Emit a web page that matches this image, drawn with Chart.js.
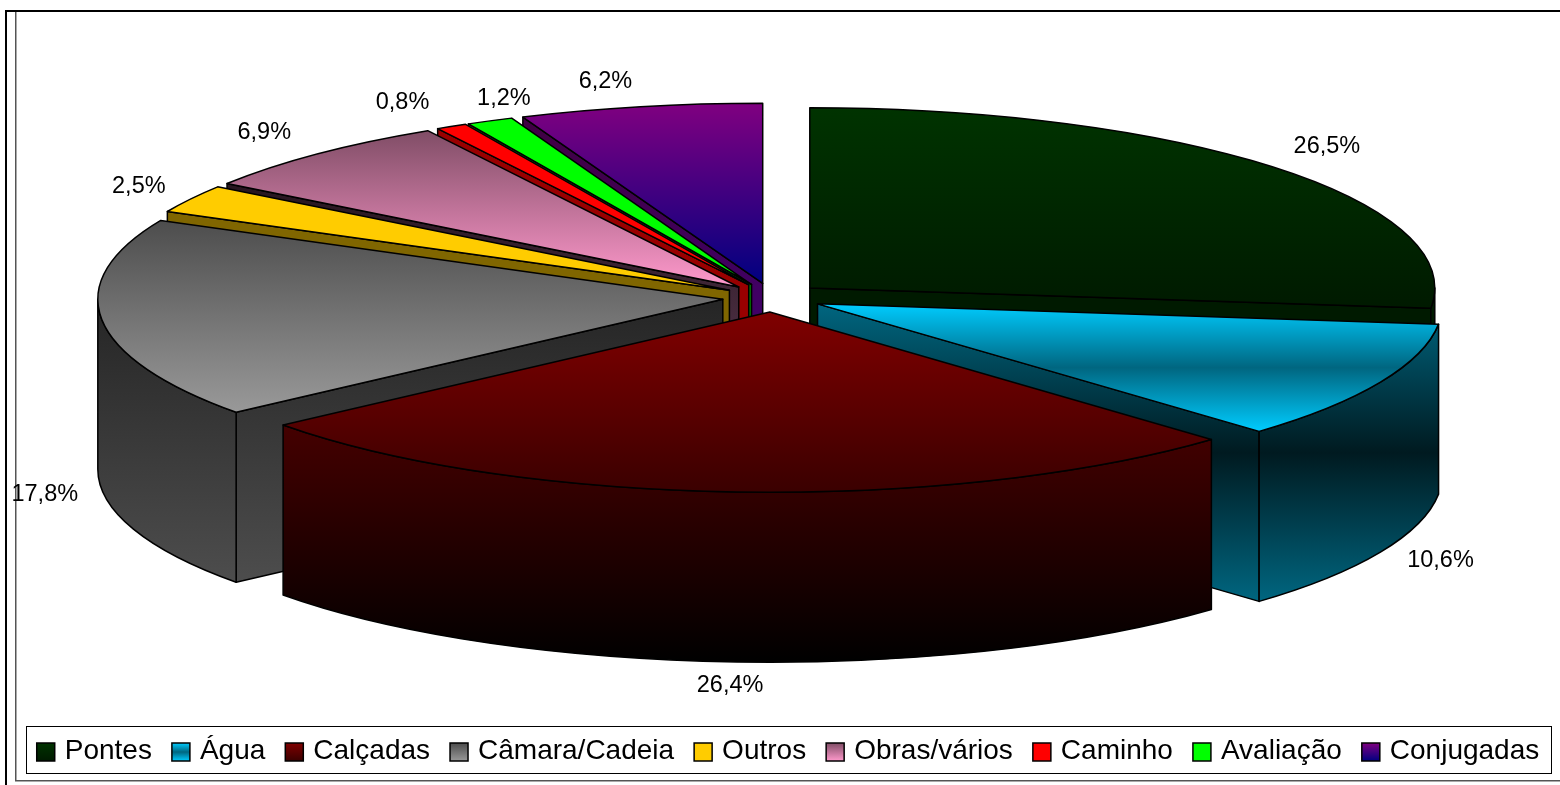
<!DOCTYPE html>
<html lang="pt">
<head>
<meta charset="utf-8">
<title>Gráfico</title>
<style>html,body{margin:0;padding:0;background:#fff}#wrap{width:1560px;height:785px}</style>
<script src="https://cdn.jsdelivr.net/npm/chart.js@4/dist/chart.umd.min.js"></script>
</head>
<body>
<div id="wrap"><canvas id="c" width="1560" height="785"></canvas></div>
<script>
const categories = ["Pontes","Água","Calçadas","Câmara/Cadeia","Outros","Obras/vários","Caminho","Avaliação","Conjugadas"];
const values = [26.5,10.6,26.4,17.8,2.5,6.9,0.8,1.2,6.2];

const topStops = [["#003300","#001a00"],["#00ccff","#006680","#00ccff"],["#800000","#3a0000"],["#4d4d4d","#999999"],["#ffcc00","#ffcc00"],["#804d66","#ff99cc"],["#ff0000","#ff0000"],["#00ff00","#00ff00"],["#800080","#000080"]];
const wallStops = [["#001a00","#001a00"],["#006680","#001a20","#006680"],["#660000","#000000"],["#1a1a1a","#4d4d4d"],["#806600","#806600"],["#1a0d14","#66405a"],["#990000","#990000"],["#008000","#008000"],["#400040","#400080"]];
const labelNudges = [[51,-21],[60,8],[-6,24],[-57,5],[-52,-12],[-53,-21],[-49,-24],[14,-22],[-35,-25]];

const RADIUS = 625, TILT = 0.2883, DEPTH = 170, EXPLODE = 50;
const CENTER_X = 772.5, CENTER_Y = 297.6;
const FONT = '"Liberation Sans", Arial, sans-serif';

function sliceSinRange(i){
  const total = values.reduce((a,b)=>a+b,0);
  const before = values.slice(0,i).reduce((a,b)=>a+b,0);
  const s = -Math.PI/2 + before/total*2*Math.PI;
  const e = s + values[i]/total*2*Math.PI;
  let lo = Math.min(0,Math.sin(s),Math.sin(e)), hi = Math.max(0,Math.sin(s),Math.sin(e));
  if (s < Math.PI/2 && e > Math.PI/2) hi = 1;
  if (s < -Math.PI/2+1e-9 || (s < 3*Math.PI/2 && e > 3*Math.PI/2)) lo = -1;
  return [lo,hi];
}
function fillStops(g, stops){ stops.forEach((c,k)=>g.addColorStop(k/(stops.length-1),c)); return g; }

function sliceGeom(el){
  const mid = (el.startAngle+el.endAngle)/2;
  return {s:el.startAngle,e:el.endAngle,mid,R:el.outerRadius,
    ax:CENTER_X+Math.cos(mid)*EXPLODE, ay:CENTER_Y+Math.sin(mid)*EXPLODE*TILT};
}

const pie3d = {
  id:'pie3d',
  beforeDraw(chart){
    const c = chart.ctx;
    c.save();
    c.fillStyle='#fff'; c.fillRect(0,0,1560,785);
    c.fillStyle='#000'; c.fillRect(5,10,1555,2); c.fillRect(5,10,2,775);
    c.fillStyle='#555'; c.fillRect(15,12,1.5,769); c.fillRect(15,780,1545,1.5);
    c.restore();
  },
  beforeDatasetDraw(chart,args){
    const c = chart.ctx, meta = chart.getDatasetMeta(args.index), els = meta.data, area = chart.chartArea;
    const order = els.map((el,i)=>i).sort((a,b)=>Math.sin((els[a].startAngle+els[a].endAngle)/2)-Math.sin((els[b].startAngle+els[b].endAngle)/2));
    // side walls, back to front
    c.save();
    c.strokeStyle='#000'; c.lineWidth=1.5; c.lineJoin='round';
    order.forEach(i=>{
      const g = sliceGeom(els[i]), ry = g.R*TILT, [lo,hi] = sliceSinRange(i);
      c.fillStyle = fillStops(c.createLinearGradient(0,g.ay+ry*lo,0,g.ay+ry*hi+DEPTH), wallStops[i]);
      const face = a=>{
        const px=g.ax+g.R*Math.cos(a), py=g.ay+ry*Math.sin(a);
        c.beginPath(); c.moveTo(g.ax,g.ay); c.lineTo(px,py); c.lineTo(px,py+DEPTH); c.lineTo(g.ax,g.ay+DEPTH); c.closePath(); c.fill(); c.stroke();
      };
      if (Math.cos(g.s)<0) face(g.s);
      if (Math.cos(g.e)>0) face(g.e);
      const a0=Math.max(g.s,0), a1=Math.min(g.e,Math.PI);
      if (a1>a0){
        c.beginPath();
        c.ellipse(g.ax,g.ay,g.R,ry,0,a0,a1);
        c.ellipse(g.ax,g.ay+DEPTH,g.R,ry,0,a1,a0,true);
        c.closePath(); c.fill(); c.stroke();
      }
    });
    c.restore();
    // top faces: the library's arc elements, tilted and pulled apart
    const cy=(area.top+area.bottom)/2, cx=(area.left+area.right)/2;
    els.forEach(el=>{
      const mid=(el.startAngle+el.endAngle)/2;
      c.save();
      c.translate(CENTER_X,CENTER_Y); c.scale(1,TILT); c.translate(-cx,-cy);
      c.translate(Math.cos(mid)*EXPLODE,Math.sin(mid)*EXPLODE);
      el.draw(c,area);
      c.restore();
    });
    return false;
  },
  afterDatasetsDraw(chart){
    const c = chart.ctx, els = chart.getDatasetMeta(0).data;
    c.save();
    c.strokeStyle='#000'; c.lineWidth=1.5; c.lineJoin='round';
    els.forEach(el=>{
      const g=sliceGeom(el);
      c.beginPath(); c.moveTo(g.ax,g.ay);
      c.ellipse(g.ax,g.ay,g.R,g.R*TILT,0,g.s,g.e);
      c.closePath(); c.stroke();
    });
    c.fillStyle='#000'; c.textAlign='center'; c.textBaseline='middle'; c.font='23.5px '+FONT;
    els.forEach((el,i)=>{
      const g=sliceGeom(el);
      const x=g.ax+g.R*Math.cos(g.mid), y=g.ay+g.R*TILT*Math.sin(g.mid)+(Math.sin(g.mid)>0?DEPTH:0);
      c.fillText(values[i].toFixed(1).replace('.',',')+'%', x+labelNudges[i][0], y+labelNudges[i][1]);
    });
    c.restore();
  },
  afterDraw(chart){
    const c = chart.ctx;
    c.save();
    c.strokeStyle='#000'; c.lineWidth=1; c.strokeRect(26.5,726.5,1525,47);
    chart.legend.legendHitBoxes.forEach((hb,i)=>{
      const h=18, y=hb.top+(hb.height-h)/2+1;
      c.fillStyle=fillStops(c.createLinearGradient(0,y,0,y+h),topStops[i]);
      c.fillRect(hb.left,y,18,h);
      c.strokeStyle='#000'; c.lineWidth=1.5; c.strokeRect(hb.left,y,18,h);
    });
    c.restore();
  }
};

new Chart(document.getElementById('c'),{
  type:'pie',
  data:{labels:categories,datasets:[{
    data:values,
    borderWidth:0,
    radius:RADIUS,
    backgroundColor(ctx){
      const i=ctx.dataIndex, area=ctx.chart.chartArea;
      if(!area) return topStops[i][0];
      const cy=(area.top+area.bottom)/2, [lo,hi]=sliceSinRange(i);
      return fillStops(ctx.chart.ctx.createLinearGradient(0,cy+RADIUS*lo,0,cy+RADIUS*hi),topStops[i]);
    }
  }]},
  options:{
    responsive:false,animation:false,events:[],
    layout:{padding:{left:16,right:0,top:0,bottom:10}},
    plugins:{
      tooltip:{enabled:false},
      legend:{
        position:'bottom',
        labels:{
          boxWidth:14,boxHeight:18,padding:20,color:'#000',font:{family:FONT,size:28},
          generateLabels(chart){
            return categories.map((t,i)=>({text:t,fillStyle:'rgba(0,0,0,0)',strokeStyle:'rgba(0,0,0,0)',lineWidth:0,hidden:false,index:i}));
          }
        }
      }
    }
  },
  plugins:[pie3d]
});
</script>
</body>
</html>
